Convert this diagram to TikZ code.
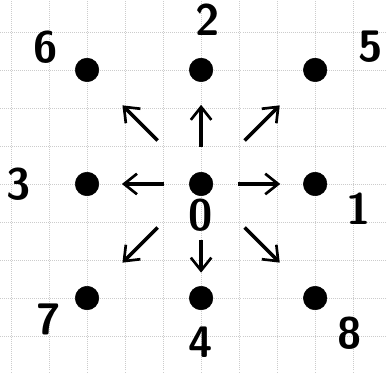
\documentclass[tikz,border=0pt]{standalone}
\usetikzlibrary{arrows.meta,positioning}

\begin{document}
\begin{tikzpicture}[
  x=1cm, y=1cm,
  font=\sffamily\bfseries\fontsize{33}{35}\selectfont,
  >={Straight Barb[length=3.4mm, width=5.4mm, line width=2pt]},
  node distance=3cm and 3cm,
  on grid,
  dot/.style={
    draw,
    fill=black,
    circle,
    minimum size=6.2mm,
    inner sep=0pt
  },
  num/.style={
    inner sep=0pt
  },
  paper/.style={
    gray!40,
    densely dotted,
    line width=0.5pt
  },
  axisarrow/.style={->, line width=2.6pt, shorten <=0.65cm, shorten >=0.6cm},
  diagarrow/.style={->, line width=2.6pt, shorten <=1.3cm, shorten >=1.0cm}
]

\useasboundingbox (-5.29,-4.95) rectangle (4.89,4.84);
\draw[paper] (-5.29,-4.95) grid (4.89,4.84);

% lattice points
\node[dot] (c0) at (0,0) {};
\node[dot, right=of c0] (c1) {};
\node[dot, above=of c0] (c2) {};
\node[dot, left=of c0] (c3) {};
\node[dot, below=of c0] (c4) {};
\node[dot, above right=of c0] (c5) {};
\node[dot, above left=of c0] (c6) {};
\node[dot, below left=of c0] (c7) {};
\node[dot, below right=of c0] (c8) {};

% numbers
\node[num, below=0.82cm of c0] (n0) {0};
\node[num, below right=0.66cm and 1.15cm of c1] (n1) {1};
\node[num, above right=1.32cm and 0.16cm of c2] (n2) {2};
\node[num, left=1.8cm of c3] (n3) {3};
\node[num, below=1.15cm of c4] (n4) {4};
\node[num, above right=0.6cm and 1.45cm of c5] (n5) {5};
\node[num, above left=0.6cm and 1.1cm of c6] (n6) {6};
\node[num, below left=0.55cm and 1.0cm of c7] (n7) {7};
\node[num, below right=0.92cm and 0.9cm of c8] (n8) {8};

% velocities
\draw[axisarrow] (c0) -- (c1);
\draw[axisarrow] (c0) -- (c2);
\draw[axisarrow] (c0) -- (c3);
\draw[axisarrow, shorten <=1.15cm, shorten >=0.35cm] (c0) -- (c4);
\draw[diagarrow] (c0) -- (c5);
\draw[diagarrow] (c0) -- (c6);
\draw[diagarrow] (c0) -- (c7);
\draw[diagarrow] (c0) -- (c8);

\end{tikzpicture}
\end{document}
